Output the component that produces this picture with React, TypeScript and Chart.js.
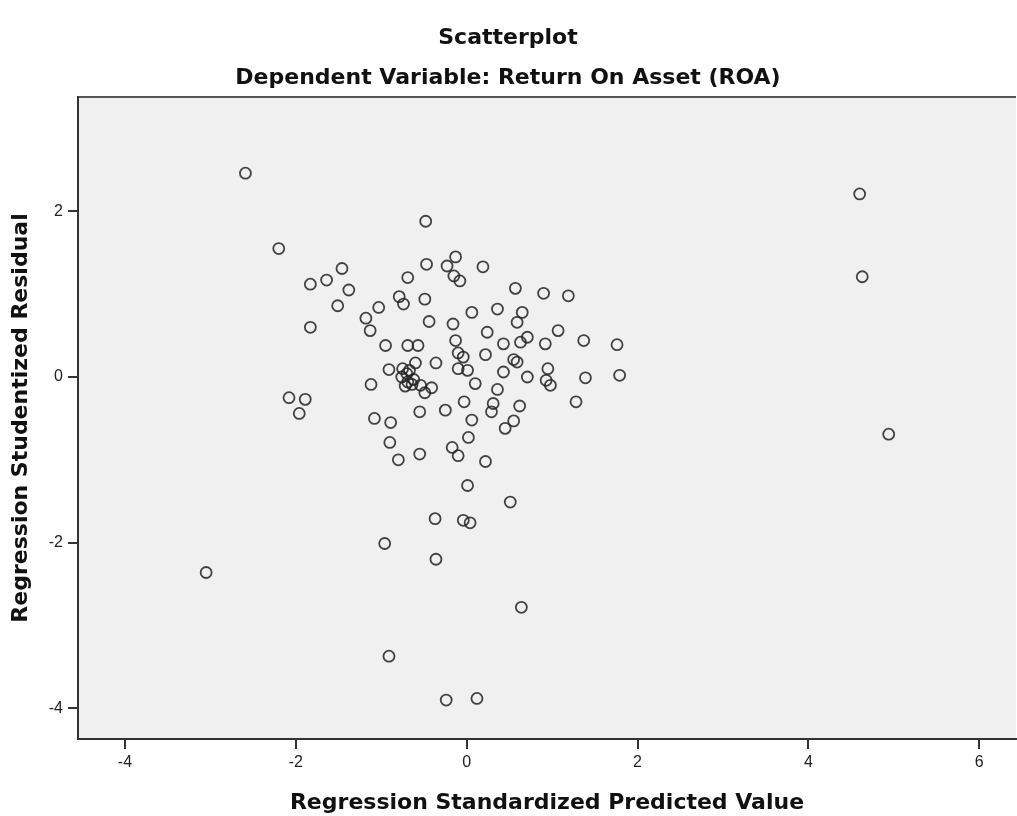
import React, { useEffect, useRef } from "react";
import { Chart, registerables } from "chart.js";

Chart.register(...registerables);

const chartTitle = "Scatterplot";
const chartSubtitle = "Dependent Variable: Return On Asset (ROA)";
const xAxisTitle = "Regression Standardized Predicted Value";
const yAxisTitle = "Regression Studentized Residual";

const xTicks = [-4, -2, 0, 2, 4, 6];
const yTicks = [-4, -2, 0, 2];
const xRange = [-4.55, 6.43];
const yRange = [-4.37, 3.38];

// Regression Standardized Predicted Value
const predicted = [
  -2.59, -2.2, -1.46, -1.64, -1.83, -1.38, -1.51, -1.03, -1.18, -1.13,
  -1.83, -0.95, -0.91, -1.12, -2.08, -1.89, -1.96, -1.08, -0.89, -0.9,
  -0.8, -0.96, -3.05, -0.91, 4.6, 4.63, 4.94, -0.48, -0.47, -0.69,
  -0.13, -0.23, -0.15, -0.08, 0.19, -0.79, -0.74, -0.49, 0.57, 0.9,
  1.19, -0.44, -0.16, 0.06, 0.36, 0.65, 0.59, 0.24, -0.13, 0.43,
  0.63, 0.71, 1.07, 0.92, 1.37, 1.76, -0.69, -0.57, -0.1, -0.04,
  0.22, 0.55, 0.59, -0.6, -0.36, -0.75, -0.67, -0.76, -0.69, -0.62,
  -0.72, -0.7, -0.64, -0.1, 0.01, 0.43, 0.95, 0.93, 0.98, 0.71,
  1.39, 1.79, -0.54, -0.41, -0.49, 0.1, 0.36, -0.03, 0.31, 0.29,
  0.62, 1.28, -0.55, -0.25, 0.06, 0.55, 0.45, 0.02, -0.55, -0.17,
  -0.1, 0.22, 0.01, 0.51, -0.37, -0.04, 0.04, -0.36, 0.64, -0.24,
  0.12,
];

// Regression Studentized Residual
const residual = [
  2.46, 1.55, 1.31, 1.17, 1.12, 1.05, 0.86, 0.84, 0.71, 0.56,
  0.6, 0.38, 0.09, -0.09, -0.25, -0.27, -0.44, -0.5, -0.55, -0.79,
  -1.0, -2.01, -2.36, -3.37, 2.21, 1.21, -0.69, 1.88, 1.36, 1.2,
  1.45, 1.34, 1.22, 1.16, 1.33, 0.97, 0.88, 0.94, 1.07, 1.01,
  0.98, 0.67, 0.64, 0.78, 0.82, 0.78, 0.66, 0.54, 0.44, 0.4,
  0.42, 0.48, 0.56, 0.4, 0.44, 0.39, 0.38, 0.38, 0.29, 0.24,
  0.27, 0.21, 0.18, 0.17, 0.17, 0.1, 0.08, 0.0, -0.06, -0.03,
  -0.11, 0.04, -0.09, 0.1, 0.08, 0.06, 0.1, -0.04, -0.1, 0.0,
  -0.01, 0.02, -0.1, -0.13, -0.19, -0.08, -0.15, -0.3, -0.32, -0.42,
  -0.35, -0.3, -0.42, -0.4, -0.52, -0.53, -0.62, -0.73, -0.93, -0.85,
  -0.95, -1.02, -1.31, -1.51, -1.71, -1.73, -1.76, -2.2, -2.78, -3.9,
  -3.88,
];

const titleFont = { family: "'DejaVu Sans', sans-serif", size: 22, weight: "bold" as const };
const tickFont = { family: "'Liberation Sans', Arial, sans-serif", size: 16 };

const plotBackground = {
  id: "plotBackground",
  beforeDraw(chart: any) {
    const { ctx, chartArea } = chart;
    if (!chartArea) return;
    ctx.save();
    ctx.fillStyle = "#f0f0f0";
    ctx.fillRect(chartArea.left, chartArea.top, chartArea.right - chartArea.left, chartArea.bottom - chartArea.top);
    ctx.strokeStyle = "#555555";
    ctx.lineWidth = 2;
    ctx.beginPath();
    ctx.moveTo(chartArea.left, chartArea.top);
    ctx.lineTo(chartArea.right, chartArea.top);
    ctx.stroke();
    ctx.restore();
  },
};

export default function App() {
  const canvasRef = useRef<HTMLCanvasElement | null>(null);

  useEffect(() => {
    const canvas = canvasRef.current;
    if (!canvas) return;
    const points = predicted.map((x, i) => ({ x, y: residual[i] }));
    const chart = new Chart(canvas, {
      type: "scatter",
      data: {
        datasets: [
          {
            label: "Residuals",
            data: points,
            pointStyle: "circle",
            pointRadius: 5.5,
            pointBorderWidth: 1.8,
            pointBackgroundColor: "rgba(0,0,0,0)",
            pointBorderColor: "rgba(35,35,35,0.85)",
          },
        ],
      },
      options: {
        animation: false,
        responsive: false,
        devicePixelRatio: 1,
        layout: { autoPadding: false, padding: { left: 0, right: 1, top: 0, bottom: 0 } },
        plugins: {
          legend: { display: false },
          tooltip: { enabled: false },
          title: {
            display: true,
            text: chartTitle,
            color: "#111",
            font: titleFont,
            padding: { top: 25, bottom: 0 },
          },
          subtitle: {
            display: true,
            text: chartSubtitle,
            color: "#111",
            font: titleFont,
            padding: { top: 13.4, bottom: 5.8 },
          },
        },
        scales: {
          x: {
            type: "linear",
            min: xRange[0],
            max: xRange[1],
            afterBuildTicks: (scale: any) => {
              scale.ticks = xTicks.map((v) => ({ value: v }));
            },
            afterFit: (scale: any) => {
              scale.height = 77;
              scale.paddingLeft = 0;
              scale.paddingRight = 0;
            },
            grid: {
              drawOnChartArea: false,
              drawTicks: true,
              tickLength: 10,
              color: "#333",
              lineWidth: 2,
            },
            border: { display: true, color: "#333", width: 2 },
            ticks: { color: "#222", font: tickFont, padding: 4, autoSkip: false, maxRotation: 0 },
            title: {
              display: true,
              text: xAxisTitle,
              color: "#111",
              font: titleFont,
              padding: { top: 0, bottom: 0 },
            },
          },
          y: {
            type: "linear",
            min: yRange[0],
            max: yRange[1],
            afterBuildTicks: (scale: any) => {
              scale.ticks = yTicks.map((v) => ({ value: v }));
            },
            afterFit: (scale: any) => {
              scale.width = 78;
              scale.paddingTop = 0;
              scale.paddingBottom = 0;
            },
            grid: {
              drawOnChartArea: false,
              drawTicks: true,
              tickLength: 10,
              color: "#333",
              lineWidth: 2,
            },
            border: { display: true, color: "#333", width: 2 },
            ticks: { color: "#222", font: tickFont, padding: 5, autoSkip: false },
            title: {
              display: true,
              text: yAxisTitle,
              color: "#111",
              font: titleFont,
              padding: { top: 8, bottom: 0 },
            },
          },
        },
      },
      plugins: [plotBackground],
    });
    return () => chart.destroy();
  }, []);

  return (
    <div style={{ position: "fixed", left: 0, top: 0, width: 1017, height: 816, background: "#fff" }}>
      <canvas ref={canvasRef} width={1017} height={816} style={{ width: 1017, height: 816, display: "block" }} />
    </div>
  );
}
